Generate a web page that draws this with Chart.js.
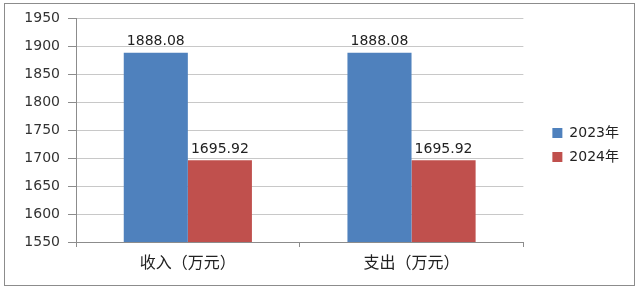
<!DOCTYPE html>
<html>
<head>
<meta charset="utf-8">
<script src="https://cdn.jsdelivr.net/npm/chart.js@4"></script>
<style>
  html, body { margin: 0; padding: 0; background: #fff; }
  #box { width: 640px; height: 290px; }
</style>
</head>
<body>
<div id="box"><canvas id="grafico"></canvas></div>
<script>
const categorias = ["收入（万元）", "支出（万元）"];
const series = ["2023年", "2024年"];
const valores2023 = [1888.08, 1888.08];
const valores2024 = [1695.92, 1695.92];
const cores = ["#4F81BD", "#C0504D"];

const fonte = "'DejaVu Sans', 'Noto Sans CJK SC', sans-serif";

// moldura, rótulos de valor e deslocamento da legenda
const extras = {
    id: "extras",
    afterLayout(chart) {
        chart.legend.left += 19;
        chart.legend.right += 19;
    },
    beforeDraw(chart) {
        const c = chart.ctx;
        c.save();
        c.fillStyle = "#fff";
        c.fillRect(0, 0, chart.width, chart.height);
        c.strokeStyle = "#8c8c8c";
        c.lineWidth = 1;
        c.strokeRect(4.5, 3.5, 630, 282);
        c.restore();
    },
    afterDatasetsDraw(chart) {
        const c = chart.ctx;
        c.save();
        c.font = "14px " + fonte;
        c.fillStyle = "#222";
        c.textAlign = "center";
        c.textBaseline = "bottom";
        chart.data.datasets.forEach((ds, i) => {
            chart.getDatasetMeta(i).data.forEach((bar, j) => {
                c.fillText(ds.data[j].toFixed(2), bar.x, bar.y - 4);
            });
        });
        c.restore();
    }
};

new Chart(document.getElementById("grafico"), {
    type: "bar",
    data: {
        labels: categorias,
        datasets: [
            { label: series[0], data: valores2023, backgroundColor: cores[0] },
            { label: series[1], data: valores2024, backgroundColor: cores[1] }
        ]
    },
    options: {
        responsive: true,
        maintainAspectRatio: false,
        animation: false,
        layout: { padding: { left: 4, top: 18, right: 30, bottom: 18 } },
        datasets: { bar: { categoryPercentage: 0.573, barPercentage: 1 } },
        plugins: {
            legend: {
                position: "right",
                labels: {
                    boxWidth: 10,
                    boxHeight: 10,
                    padding: 10,
                    color: "#222",
                    font: { family: fonte, size: 14 }
                }
            },
            tooltip: { enabled: false }
        },
        scales: {
            x: {
                grid: { display: true, drawOnChartArea: false, offset: true, tickLength: 5, tickColor: "#8c8c8c" },
                border: { color: "#8c8c8c" },
                ticks: { color: "#222", font: { family: fonte, size: 16 }, padding: 7 },
                afterFit(s) { s.height = 30; }
            },
            y: {
                min: 1550,
                max: 1950,
                ticks: {
                    stepSize: 50,
                    color: "#333",
                    font: { family: fonte, size: 14 },
                    padding: 8,
                    callback: v => String(v)
                },
                grid: { color: "#c8c8c8", tickLength: 8, tickColor: "#8c8c8c" },
                border: { color: "#8c8c8c" },
                afterFit(s) { s.width = 72; }
            }
        }
    },
    plugins: [extras]
});
</script>
</body>
</html>
